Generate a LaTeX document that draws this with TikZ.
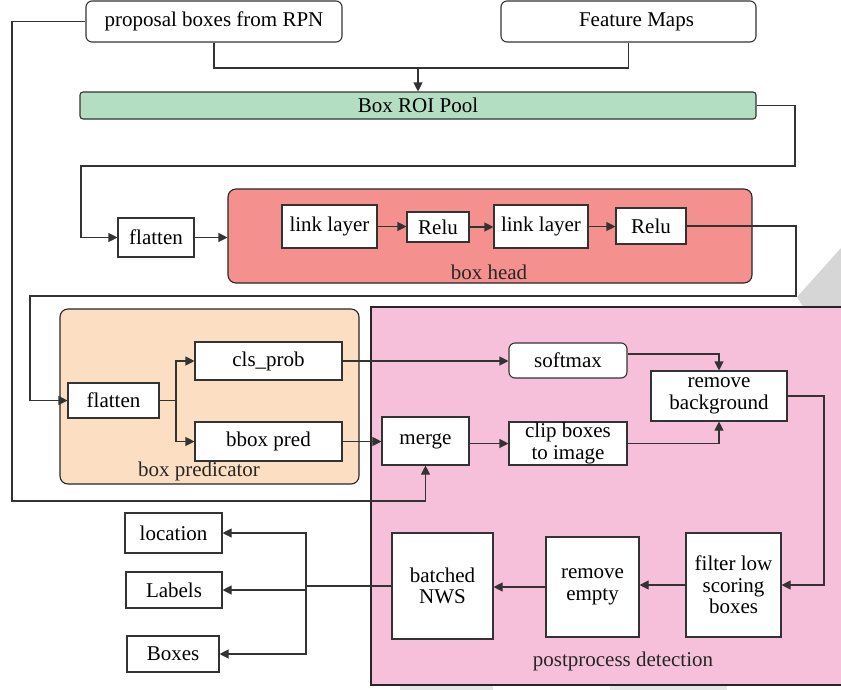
\documentclass[tikz,border=0pt]{standalone}
\usepackage{fontspec}
\setmainfont{Liberation Serif}
\usetikzlibrary{arrows.meta}
\definecolor{roigreen}{HTML}{B3DEC1}
\definecolor{headred}{HTML}{F4918E}
\definecolor{predpeach}{HTML}{FCDFC3}
\definecolor{postpink}{HTML}{F7C0DA}
\definecolor{inkline}{HTML}{333333}
\definecolor{wmgrey}{HTML}{D6D6D6}
\definecolor{wmlight}{HTML}{E6E6E6}
\begin{document}
\begin{tikzpicture}[x=1pt,y=-1pt,
  font=\fontsize{21}{21.5}\selectfont,
  blk/.style={draw=inkline, fill=white, line width=1.1pt, inner sep=0pt, align=center},
  grp/.style={draw=black!85, line width=1.1pt, inner sep=0pt},
  wire/.style={draw=inkline, line width=1.1pt},
  arr/.style={wire, -{Triangle[length=9pt,width=9pt]}},
  lbl/.style={inner sep=0pt, text=black!85}]
\useasboundingbox (0,0) rectangle (841,689);

% light background shapes
\fill[wmgrey] (797,297) -- (841,248) -- (843,248) -- (843,307) -- (803,307) -- cycle;
\fill[wmlight] (400,686) rectangle (493,690);
\fill[wmlight] (610,686) rectangle (727,690);

% group panels
\node[grp, fill=headred, rounded corners=8pt, minimum width=524pt, minimum height=94pt] (head) at (490,236) {};
\node[lbl] (headlbl) at (489,272) {box head};
\node[grp, fill=predpeach, rounded corners=8pt, minimum width=299pt, minimum height=175pt] (pred) at (209.5,396.5) {};
\node[lbl] (predlbl) at (199,471) {box predicator};
\node[grp, fill=postpink, minimum width=474pt, minimum height=378pt] (post) at (608,496) {};
\node[lbl] (postlbl) at (623,661) {postprocess detection};

% inputs and pooling
\node[blk, rounded corners=6pt, minimum width=256pt, minimum height=41pt] (prop) at (214,21.5) {proposal boxes from RPN};
\node[blk, rounded corners=6pt, minimum width=255pt, minimum height=41pt] (feat) at (628.5,21.5) {\hspace*{16pt}Feature Maps};
\node[blk, fill=roigreen, rounded corners=3pt, minimum width=676pt, minimum height=27pt] (roi) at (418,105.5) {Box ROI Pool};

% box head
\node[blk, minimum width=76pt, minimum height=39pt] (flatA) at (156,237.5) {flatten};
\node[blk, minimum width=95pt, minimum height=43pt] (linkA) at (329.5,226.5) {link layer};
\node[blk, minimum width=62pt, minimum height=30pt] (reluA) at (438,227) {Relu};
\node[blk, minimum width=94pt, minimum height=43pt] (linkB) at (541,226.5) {link layer};
\node[blk, minimum width=70pt, minimum height=36pt] (reluB) at (651,226) {Relu};

% box predictor
\node[blk, minimum width=91pt, minimum height=35pt] (flatB) at (113.5,400.5) {flatten};
\node[blk, minimum width=147pt, minimum height=38pt] (cls) at (268.5,361) {cls\_prob};
\node[blk, minimum width=147pt, minimum height=39pt] (bbox) at (268.5,441.5) {bbox pred};

% postprocessing
\node[blk, rounded corners=6pt, minimum width=118pt, minimum height=35pt] (soft) at (568,360.5) {softmax};
\node[blk, minimum width=87pt, minimum height=48pt] (merge) at (425.5,441) {merge};
\node[blk, minimum width=118pt, minimum height=43pt] (clip) at (568,443.5) {clip boxes\\to image};
\node[blk, minimum width=136pt, minimum height=50pt] (rmbg) at (719,396) {remove\\background};
\node[blk, minimum width=95pt, minimum height=104pt] (filter) at (733.5,585) {filter low\\scoring\\boxes};
\node[blk, minimum width=93pt, minimum height=100pt] (rmempty) at (592.5,587) {remove\\empty};
\node[blk, minimum width=101pt, minimum height=106pt] (nms) at (442.5,586) {batched\\NWS};

% outputs
\node[blk, minimum width=97pt, minimum height=40pt] (loc) at (173.5,533) {location};
\node[blk, minimum width=96pt, minimum height=36pt] (labels) at (174,590) {Labels};
\node[blk, minimum width=92pt, minimum height=36pt] (boxes) at (173,654) {Boxes};

% routing points
\coordinate (join) at (418,68);
\coordinate (r1) at (795,166);
\coordinate (r2) at (81,166);
\coordinate (q1) at (796,296);
\coordinate (q2) at (30,296);
\coordinate (fork) at (176,400.5);
\coordinate (rb) at (824,585);
\coordinate (hub) at (306,586);
\coordinate (l1) at (12,501);

% connectors
\draw[wire] (prop.south) |- (join) -| (feat.south);
\draw[arr] (join) -- (roi.north);
\draw[arr] (roi.east) -| (r1) -- (r2) |- (flatA.west);
\draw[arr] (flatA.east) -- (flatA.east -| head.west);
\draw[arr] (linkA.east) -- (linkA.east -| reluA.west);
\draw[arr] (reluA.east) -- (reluA.east -| linkB.west);
\draw[arr] (linkB.east) -- (linkB.east -| reluB.west);
\draw[arr] (reluB.east) -| (q1) -- (q2) |- (flatB.west);
\draw[wire] (flatB.east) -- (fork);
\draw[arr] (fork) |- (cls.west);
\draw[arr] (fork) |- (bbox.west);
\draw[arr] (cls.east) -- (cls.east -| soft.west);
\draw[arr] (bbox.east) -- (bbox.east -| merge.west);
\draw[arr] (clip.west -| merge.east) -- (clip.west);
\draw[arr] ([yshift=6.5pt]soft.east) -| (rmbg.north);
\draw[arr] (clip.east) -| (rmbg.south);
\draw[arr] (rmbg.east) -| (rb) -- (filter.east);
\draw[arr] (filter.west) -- (filter.west -| rmempty.east);
\draw[arr] (rmempty.west) -- (rmempty.west -| nms.east);
\draw[wire] (nms.west) -- (hub);
\draw[arr] (hub) |- (loc.east);
\draw[arr] (hub) |- (labels.east);
\draw[arr] (hub) |- (boxes.east);
\draw[arr] (prop.west) -| (l1) -| (merge.south);
\end{tikzpicture}
\end{document}
